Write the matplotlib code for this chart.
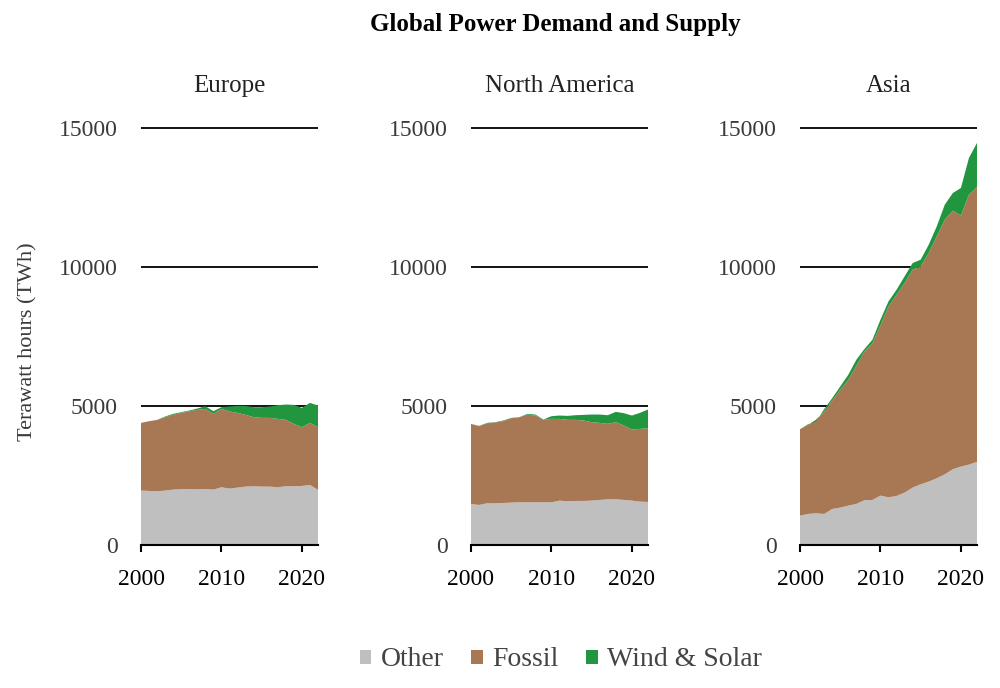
import numpy as np
import matplotlib
matplotlib.use("Agg")
import matplotlib.pyplot as plt
from matplotlib.patches import Patch

years = list(range(2000, 2023))

regions = ["Europe", "North America", "Asia"]
series_names = ["Other", "Fossil", "Wind & Solar"]
colors = ["#bfbfbf", "#a87855", "#22963f"]

# Europe (TWh)
eu_other = [1956, 1944, 1932, 1956, 1992, 2004, 2016, 2004, 2016, 1992, 2076, 2028, 2064, 2100, 2112, 2100, 2100, 2076, 2112, 2112, 2124, 2160, 1980]
eu_fossil_top = [4392, 4452, 4500, 4596, 4680, 4752, 4812, 4860, 4896, 4716, 4896, 4800, 4752, 4680, 4596, 4572, 4572, 4536, 4500, 4356, 4236, 4392, 4236]
eu_total = [4392, 4452, 4500, 4620, 4716, 4776, 4836, 4908, 4992, 4812, 4956, 4980, 5004, 5004, 4956, 4956, 4980, 5028, 5052, 5040, 4932, 5112, 5016]

# North America (TWh)
na_other = [1476, 1440, 1500, 1500, 1512, 1524, 1536, 1536, 1536, 1536, 1536, 1596, 1572, 1584, 1584, 1596, 1620, 1644, 1644, 1620, 1596, 1560, 1548]
na_fossil_top = [4356, 4272, 4380, 4404, 4452, 4560, 4596, 4692, 4656, 4500, 4536, 4536, 4500, 4500, 4476, 4416, 4392, 4356, 4416, 4296, 4152, 4176, 4200]
na_total = [4356, 4284, 4392, 4416, 4476, 4572, 4596, 4716, 4692, 4512, 4632, 4656, 4644, 4668, 4680, 4692, 4692, 4668, 4788, 4740, 4656, 4752, 4872]

# Asia (TWh)
as_other = [1056, 1116, 1140, 1116, 1296, 1344, 1416, 1476, 1608, 1620, 1776, 1716, 1764, 1884, 2064, 2184, 2280, 2400, 2544, 2724, 2820, 2892, 2988]
as_fossil_top = [4164, 4320, 4500, 4800, 5196, 5580, 5940, 6444, 6960, 7260, 7896, 8580, 9000, 9420, 9900, 10020, 10500, 11100, 11700, 12024, 11844, 12600, 12876]
as_total = [4164, 4344, 4440, 4884, 5280, 5700, 6120, 6660, 7044, 7380, 8100, 8760, 9180, 9660, 10140, 10260, 10800, 11460, 12240, 12660, 12840, 13920, 14460]

data = {
    "Europe": (eu_other, eu_fossil_top, eu_total),
    "North America": (na_other, na_fossil_top, na_total),
    "Asia": (as_other, as_fossil_top, as_total),
}

yticks = [0, 5000, 10000, 15000]
xticks = [2000, 2010, 2020]

serif = ["Liberation Serif", "DejaVu Serif"]
plt.rcParams["font.family"] = serif

fig = plt.figure(figsize=(10, 6.88), dpi=100)
lefts = [0.141, 0.471, 0.800]
bottom = (688 - 545) / 688
height = (545 - 114) / 688
width = 0.177

for left, region in zip(lefts, regions):
    ax = fig.add_axes([left, bottom, width, height])
    other, ftop, total = data[region]
    other = np.array(other, float)
    fossil = np.array(ftop, float) - other
    wind = np.array(total, float) - np.array(ftop, float)
    ax.stackplot(years, other, fossil, wind, colors=colors, linewidth=0)
    ax.set_xlim(2000, 2022)
    ax.set_ylim(0, 15500)
    ax.set_yticks(yticks)
    ax.set_yticklabels([str(v) for v in yticks])
    ax.set_xticks(xticks)
    ax.set_axisbelow(True)
    ax.yaxis.grid(True, color="black", linewidth=1.3)
    for s in ["top", "right", "left"]:
        ax.spines[s].set_visible(False)
    ax.spines["bottom"].set_linewidth(1.5)
    ax.tick_params(axis="y", length=0, pad=17, labelsize=17, labelcolor="#3a3a3a")
    ax.tick_params(axis="x", length=5, width=1.5, pad=12, labelsize=17, labelcolor="black")
    ax.set_title(region, fontsize=18, pad=16, color="#222222")

fig.text(0.028, (688 - 342) / 688, "Terawatt hours (TWh)", rotation=90,
         ha="center", va="center", fontsize=16, color="#3a3a3a")
fig.suptitle("Global Power Demand and Supply", x=0.555, y=1 - 25 / 688,
             fontsize=18, fontweight="bold", va="center")

handles = [Patch(facecolor=c, edgecolor="none") for c in colors]
fig.legend(handles, series_names, loc="center", bbox_to_anchor=(0.561, 1 - 660 / 688),
           ncol=3, frameon=False, fontsize=20, handlelength=0.4, handleheight=0.4,
           handletextpad=0.35, columnspacing=1.0, labelcolor="#444444")

fig.savefig("out.png", dpi=100)
